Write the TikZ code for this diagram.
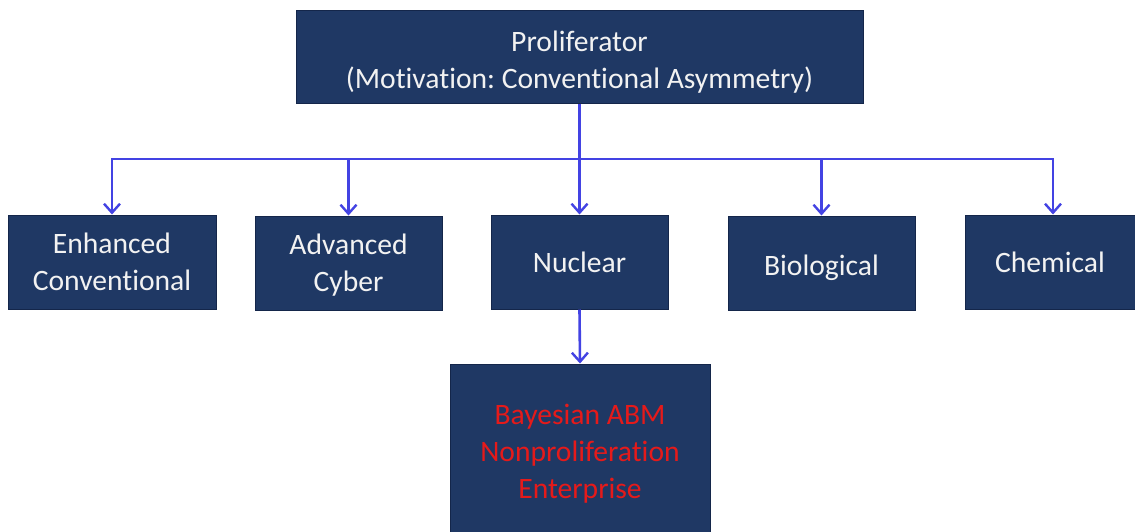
\documentclass[tikz,border=0pt]{standalone}
\usepackage{fontspec}
\setmainfont[Ligatures=NoCommon]{Carlito}
\usetikzlibrary{arrows.meta}
\frenchspacing
\definecolor{boxfill}{HTML}{1F3864}
\definecolor{boxline}{HTML}{14264A}
\definecolor{txtwhite}{HTML}{F2F2F2}
\definecolor{txtred}{HTML}{E51A1A}
\definecolor{linkblue}{HTML}{4343E3}
\newcommand{\boxtext}[2]{\raisebox{#1}[0pt][0pt]{\begin{tabular}{@{}c@{}}#2\end{tabular}}}
\begin{document}
\begin{tikzpicture}[x=1pt,y=-1pt,
  boxnode/.style={draw=boxline,line width=1pt,fill=boxfill,text=txtwhite,
    align=center,inner sep=0pt,font=\fontsize{29.6}{37}\selectfont\frenchspacing},
  link/.style={draw=linkblue,line width=2.6pt},
  arr/.style={link,-{Straight Barb[length=9pt,width=16pt,line width=2.4pt]}}]
\useasboundingbox (0,0) rectangle (1135,531);
\fill[white] (0,0) rectangle (1135,531);
\clip (0,0) rectangle (1135,531);
\node[boxnode,minimum width=567pt,minimum height=93pt] (top) at (579.5,56.5)
  {\boxtext{-12.4pt}{Proliferator\\(Motivation: Conventional Asymmetry)}};
\node[boxnode,minimum width=208pt,minimum height=94pt] (enh) at (112,262)
  {\boxtext{-8.4pt}{Enhanced\\Conventional}};
\node[boxnode,minimum width=187pt,minimum height=94pt] (cyb) at (348.5,263)
  {\boxtext{-8.4pt}{Advanced\\Cyber}};
\node[boxnode,minimum width=177pt,minimum height=94pt] (nuc) at (579.5,262)
  {Nuclear};
\node[boxnode,minimum width=187pt,minimum height=94pt] (bio) at (821.5,263)
  {\boxtext{-11pt}{Biological}};
\node[boxnode,minimum width=176pt,minimum height=94pt] (chem) at (1053,262)
  {\hspace*{-6pt}Chemical};
\node[boxnode,minimum width=260pt,minimum height=172pt,text=txtred] (bay) at (580,450)
  {\boxtext{-10.4pt}{Bayesian ABM\\Nonproliferation\\Enterprise}};
\coordinate (bus) at (579.5,159);
\draw[link] (top.south) -- (bus);
\draw[link,line cap=rect] (enh.north |- bus) -- (chem.north |- bus);
\draw[arr] (enh.north |- bus) -- (enh.north);
\draw[arr] (cyb.north |- bus) -- (cyb.north);
\draw[arr] (bus) -- (nuc.north);
\draw[arr] (bio.north |- bus) -- (bio.north);
\draw[arr] (chem.north |- bus) -- (chem.north);
\draw[arr] (nuc.south) -- (bay.north);
\end{tikzpicture}
\end{document}
